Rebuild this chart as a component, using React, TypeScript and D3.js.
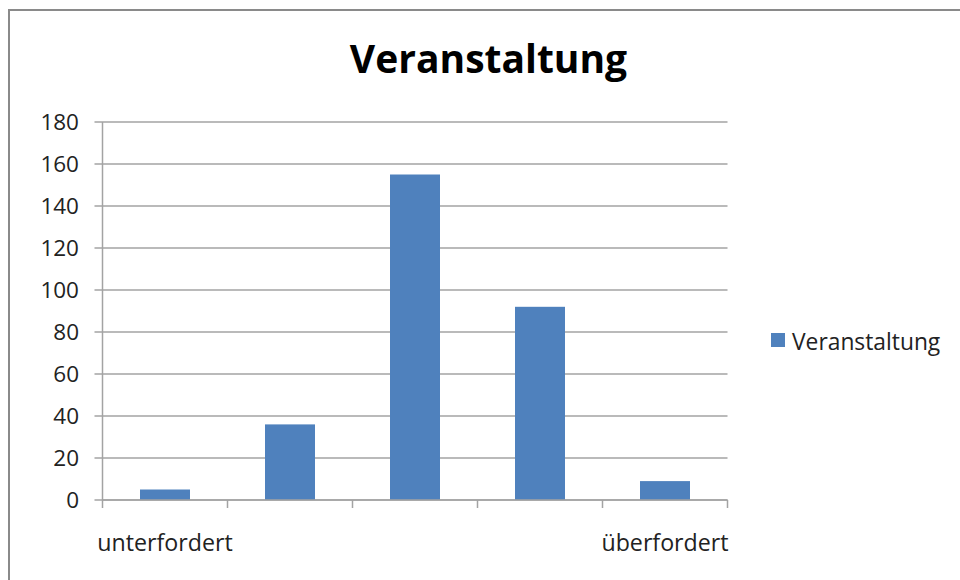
import React from "react";
import * as d3 from "d3";

// chart data
const categories = ["unterfordert", "", "", "", "überfordert"];
const values = [5, 36, 155, 92, 9];
const yTicks = [0, 20, 40, 60, 80, 100, 120, 140, 160, 180];
const seriesName = "Veranstaltung";

const W = 960;
const H = 580;
const plot = { left: 102.5, right: 727.5, top: 122, bottom: 500 };
const font = "'Open Sans', sans-serif";
const barColor = "#4f81bd";
const gridColor = "#a3a3a3";

export default function App() {
  const x = d3
    .scaleBand<number>()
    .domain(d3.range(categories.length))
    .range([plot.left, plot.right]);
  const y = d3.scaleLinear().domain([0, 180]).range([plot.bottom, plot.top]);
  const barW = x.bandwidth() * 0.4;

  // tick positions between categories
  const xTicks = d3.range(categories.length + 1).map((i) => plot.left + i * x.step());

  return (
    <svg
      width={W}
      height={H}
      style={{ position: "absolute", left: 0, top: 0, background: "#fff" }}
    >
      {/* chart area border */}
      <rect x={9} y={10} width={W + 20} height={H + 20} fill="#fff" stroke="#8a8a8a" strokeWidth={2} />

      <text
        x={488.5}
        y={73}
        textAnchor="middle"
        fontFamily={font}
        fontWeight="bold"
        fontSize={39}
        fill="#000"
      >
        {seriesName}
      </text>

      {/* gridlines + y ticks */}
      {yTicks.map((t) => (
        <g key={t}>
          <line
            x1={plot.left - 8}
            x2={plot.right}
            y1={y(t)}
            y2={y(t)}
            stroke={gridColor}
            strokeWidth={1.5}
          />
          <text
            x={79}
            y={y(t)}
            dy="0.36em"
            textAnchor="end"
            fontFamily={font}
            fontSize={22.5}
            fill="#222"
          >
            {t}
          </text>
        </g>
      ))}

      {/* y axis */}
      <line x1={plot.left} x2={plot.left} y1={plot.top} y2={plot.bottom} stroke={gridColor} strokeWidth={1.5} />

      {/* bars */}
      {values.map((v, i) => (
        <rect
          key={i}
          x={(x(i) as number) + (x.bandwidth() - barW) / 2}
          y={y(v)}
          width={barW}
          height={y(0) - y(v)}
          fill={barColor}
        />
      ))}

      {/* x axis */}
      <line x1={plot.left} x2={plot.right} y1={plot.bottom} y2={plot.bottom} stroke={gridColor} strokeWidth={1.5} />
      {xTicks.map((tx, i) => (
        <line key={i} x1={tx} x2={tx} y1={plot.bottom} y2={plot.bottom + 8} stroke={gridColor} strokeWidth={1.5} />
      ))}
      {categories.map((c, i) =>
        c ? (
          <text
            key={i}
            x={(x(i) as number) + x.bandwidth() / 2}
            y={551}
            textAnchor="middle"
            fontFamily={font}
            fontSize={23.2}
            fill="#222"
          >
            {c}
          </text>
        ) : null
      )}

      {/* legend */}
      <rect x={771} y={333} width={14} height={14} fill={barColor} />
      <text x={792} y={350} fontFamily={font} fontSize={22.8} fill="#222">
        {seriesName}
      </text>
    </svg>
  );
}
